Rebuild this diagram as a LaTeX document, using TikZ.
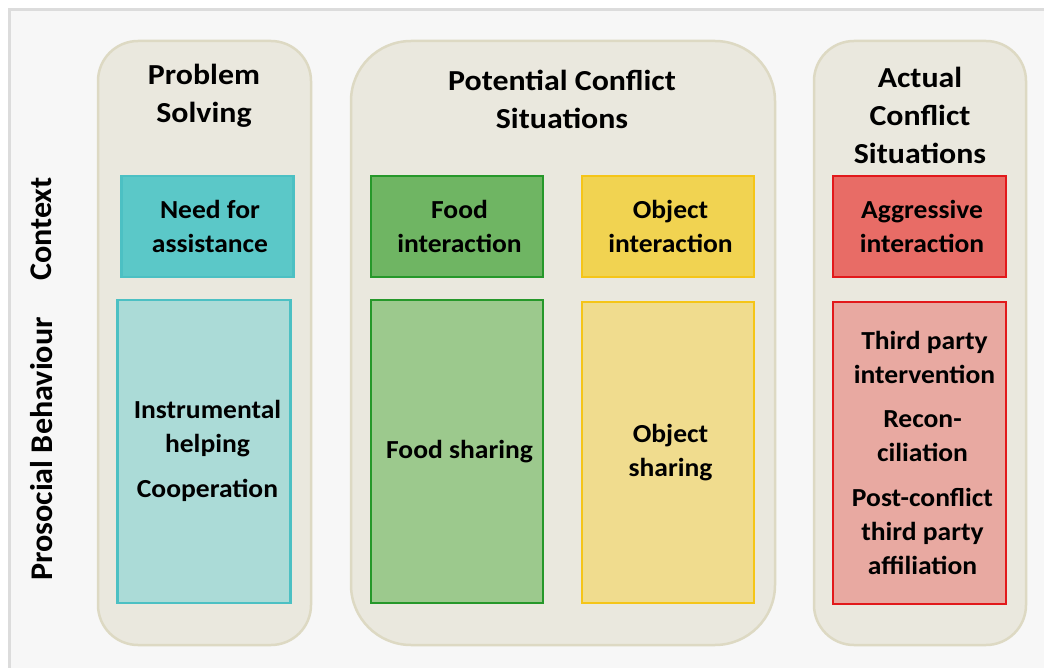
\documentclass[tikz,border=0pt]{standalone}
\usepackage{fontspec}
\setmainfont{Carlito}[FakeStretch=1.06]
\newfontfamily\headfont{Carlito}[FakeStretch=1.1]
\newfontfamily\sidefont{Carlito}[FakeStretch=1.02]
\begin{document}
\definecolor{panelbg}{HTML}{F7F7F7}
\definecolor{panelrule}{HTML}{DCDCDC}
\definecolor{colbg}{HTML}{EAE8DE}
\definecolor{colrule}{HTML}{DDD9C3}
\definecolor{tealA}{HTML}{5BC8C8}
\definecolor{tealB}{HTML}{ABDBD7}
\definecolor{tealR}{HTML}{4CC0C3}
\definecolor{greenA}{HTML}{6FB563}
\definecolor{greenB}{HTML}{9CC98D}
\definecolor{greenR}{HTML}{26982A}
\definecolor{yellowA}{HTML}{F1D351}
\definecolor{yellowB}{HTML}{F0DC8E}
\definecolor{yellowR}{HTML}{F5C518}
\definecolor{redA}{HTML}{E86C66}
\definecolor{redB}{HTML}{E8A9A1}
\definecolor{redR}{HTML}{E2191B}
\begin{tikzpicture}[x=1pt,y=-1pt,
  column/.style={fill=colbg,draw=colrule,line width=2.5pt},
  cell/.style={line width=2.8pt},
  title/.style={font=\headfont\fontsize{29}{38}\selectfont\bfseries,align=center},
  label/.style={font=\fontsize{26}{34}\selectfont\bfseries,align=center,xshift=2.5pt},
  side/.style={font=\sidefont\fontsize{31.5}{36}\selectfont\bfseries,rotate=90}]
\useasboundingbox (0,0) rectangle (1044,668);
\fill[white] (0,0) rectangle (1044,668);
% background panel
\fill[panelbg] (9.5,9.5) rectangle (1050,675);
\draw[panelrule,line width=2.5pt] (9.5,675) -- (9.5,9.5) -- (1050,9.5);

% the three context columns
\draw[column,rounded corners=40pt] (98,41) rectangle (311,645);
\draw[column,rounded corners=60pt] (351,41) rectangle (775,645);
\draw[column,rounded corners=40pt] (814,41) rectangle (1026,645);

\node[title] (tps) at (204,96) {Problem\\Solving};
\node[title] (tpc) at (562,99) {Potential Conflict\\Situations};
\node[title] (tac) at (920,115) {Actual\\Conflict\\Situations};

% row labels
\node[side] (ctx) at (41,229) {Context};
\node[side] (pro) at (42,449) {Prosocial Behaviour};

% context row
\draw[cell,fill=tealA,draw=tealR] (121.5,176) rectangle (293.5,277) node[midway,label] (need) {Need for\\assistance};
\draw[cell,fill=greenA,draw=greenR] (371,176) rectangle (543,277) node[midway,label] (food) {Food\\interaction};
\draw[cell,fill=yellowA,draw=yellowR] (582,176) rectangle (754,277) node[midway,label] (obj) {Object\\interaction};
\draw[cell,fill=redA,draw=redR] (833,176) rectangle (1006,277) node[midway,label] (agg) {Aggressive\\interaction};

% behaviour row
\draw[cell,fill=tealB,draw=tealR] (117.5,300) rectangle (290.5,603);
\node[label] (help) at (205,429) {Instrumental\\helping};
\node[label] (coop) at (205,490) {Cooperation};
\draw[cell,fill=greenB,draw=greenR] (371,300) rectangle (543,603) node[midway,label] (fshare) {Food sharing};
\draw[cell,fill=yellowB,draw=yellowR] (582,302) rectangle (754,603) node[midway,label] (oshare) {Object\\sharing};
\draw[cell,fill=redB,draw=redR] (833,302) rectangle (1006,604);
\node[label] (third) at (922,357) {Third party\\intervention};
\node[label] (recon) at (920,436) {Recon-\\ciliation};
\node[label] (post) at (920,531) {Post-conflict\\third party\\affiliation};
\end{tikzpicture}
\end{document}
